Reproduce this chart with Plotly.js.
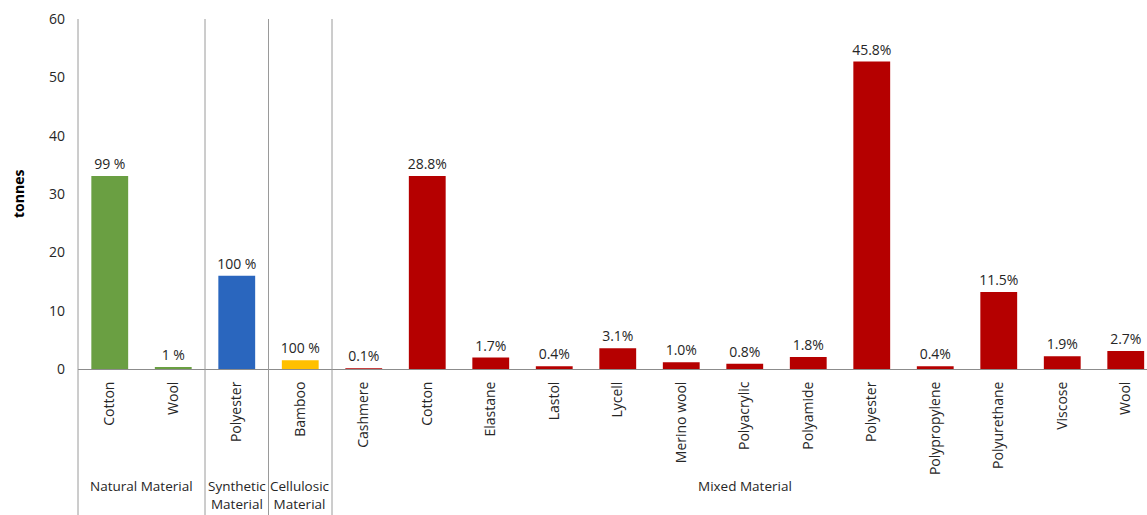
<!DOCTYPE html>
<html>
<head>
<meta charset="utf-8">
<script src="https://cdn.plot.ly/plotly-3.0.1.min.js"></script>
<style>
html, body { margin: 0; padding: 0; overflow: hidden; background: #fff; }
#chart { width: 1147px; height: 515px; }
</style>
</head>
<body>
<div id="chart"></div>
<script>
// Data
const materials = ["Cotton", "Wool", "Polyester", "Bamboo", "Cashmere", "Cotton", "Elastane", "Lastol", "Lycell", "Merino wool", "Polyacrylic", "Polyamide", "Polyester", "Polypropylene", "Polyurethane", "Viscose", "Wool"];
const groupOf = ["Natural", "Natural", "Synthetic", "Cellulosic", "Mixed", "Mixed", "Mixed", "Mixed", "Mixed", "Mixed", "Mixed", "Mixed", "Mixed", "Mixed", "Mixed", "Mixed", "Mixed"];
const tonnes = [33.1, 0.33, 16.0, 1.5, 0.12, 33.1, 1.96, 0.46, 3.57, 1.15, 0.92, 2.07, 52.7, 0.46, 13.2, 2.19, 3.1];
const shareLabels = ["99 %", "1 %", "100 %", "100 %", "0.1%", "28.8%", "1.7%", "0.4%", "3.1%", "1.0%", "0.8%", "1.8%", "45.8%", "0.4%", "11.5%", "1.9%", "2.7%"];
const groupNames = ["Natural", "Synthetic", "Cellulosic", "Mixed"];
const groupLabels = ["Natural Material", "Synthetic<br>Material", "Cellulosic<br>Material", "Mixed Material"];
const groupColors = {Natural: "#6a9f42", Synthetic: "#2a66be", Cellulosic: "#ffc000", Mixed: "#b50000"};
const yTicks = [0, 10, 20, 30, 40, 50, 60];

const W = 1147, H = 515;
const M = {l: 78, r: 0, t: 19, b: 146};
const plotW = W - M.l - M.r, plotH = H - M.t - M.b;
const catW = 63.5;
const xRange = [-0.5, -0.5 + plotW / catW];
const toPaperX = v => (v - xRange[0]) / (xRange[1] - xRange[0]);

const xIdx = materials.map((_, i) => i);
const font = "Open Sans, Noto Sans, sans-serif";
const textCol = "#262626";

const trace = {
  type: "bar",
  x: xIdx,
  y: tonnes,
  text: shareLabels,
  textposition: "outside",
  constraintext: "none",
  cliponaxis: false,
  textfont: {family: font, size: 14, color: textCol},
  marker: {color: groupOf.map(g => groupColors[g]), line: {width: 0}},
  hoverinfo: "none"
};

// group boundaries and centers
const shapes = [];
const annotations = [];
groupNames.forEach((g, gi) => {
  const idx = xIdx.filter(i => groupOf[i] === g);
  const first = Math.min(...idx), last = Math.max(...idx);
  shapes.push({
    type: "line", xref: "paper", yref: "paper",
    x0: toPaperX(first - 0.5), x1: toPaperX(first - 0.5),
    y0: -M.b / plotH, y1: 1,
    line: {color: "#9a9a9a", width: 1}
  });
  annotations.push({
    xref: "paper", yref: "paper",
    x: toPaperX((first + last) / 2), y: -(475 - (M.t + plotH)) / plotH,
    xanchor: "center", yanchor: "top",
    text: groupLabels[gi], showarrow: false,
    font: {family: font, size: 13.5, color: textCol}
  });
});

annotations.push({
  xref: "paper", yref: "paper",
  x: -(78 - 18) / plotW, y: 0.5,
  xanchor: "center", yanchor: "middle",
  text: "<b>tonnes</b>", textangle: -90, showarrow: false,
  font: {family: font, size: 14, color: "#000"}
});

const layout = {
  width: W, height: H,
  margin: M,
  paper_bgcolor: "#fff", plot_bgcolor: "#fff",
  showlegend: false,
  bargap: 0.42,
  font: {family: font, color: textCol},
  xaxis: {
    range: xRange,
    tickvals: xIdx, ticktext: materials,
    tickangle: -90,
    ticks: "", showgrid: false, zeroline: false,
    showline: true, linecolor: "#8c8c8c", linewidth: 1,
    tickfont: {family: font, size: 14, color: textCol},
    ticklabelstandoff: 6,
    fixedrange: true, automargin: false
  },
  yaxis: {
    range: [0, 60], tickvals: yTicks,
    ticks: "", showgrid: false, zeroline: false, showline: false,
    tickfont: {family: font, size: 14, color: textCol},
    ticklabelstandoff: 12,
    fixedrange: true, automargin: false
  },
  shapes: shapes,
  annotations: annotations
};

Plotly.newPlot("chart", [trace], layout, {displayModeBar: false, staticPlot: true});
</script>
</body>
</html>
